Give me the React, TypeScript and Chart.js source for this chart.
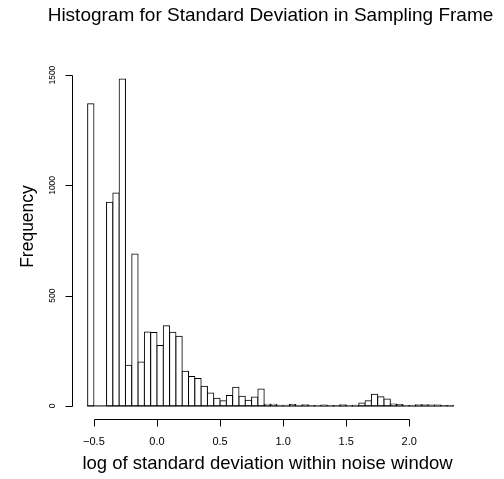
import { useEffect, useRef } from "react";
import { Chart, registerables } from "chart.js";

Chart.register(...registerables);

const TITLE = "Histogram for Standard Deviation in Sampling Frame";
const X_LABEL = "log of standard deviation within noise window";
const Y_LABEL = "Frequency";

// histogram bins: width 0.05, midpoints
const BIN_WIDTH = 0.05;
const binMids = [
  -0.525, -0.475, -0.425, -0.375, -0.325, -0.275, -0.225, -0.175, -0.125, -0.075,
  -0.025, 0.025, 0.075, 0.125, 0.175, 0.225, 0.275, 0.325, 0.375, 0.425,
  0.475, 0.525, 0.575, 0.625, 0.675, 0.725, 0.775, 0.825, 0.875, 0.925,
  0.975, 1.025, 1.075, 1.125, 1.175, 1.225, 1.275, 1.325, 1.375, 1.425,
  1.475, 1.525, 1.575, 1.625, 1.675, 1.725, 1.775, 1.825, 1.875, 1.925,
  1.975, 2.025, 2.075, 2.125, 2.175, 2.225, 2.275, 2.325,
];
const counts = [
  1370, 0, 0, 924, 965, 1482, 184, 689, 199, 335,
  333, 274, 364, 334, 316, 157, 133, 124, 89, 59,
  35, 23, 47, 85, 44, 26, 41, 77, 8, 8,
  3, 3, 7, 3, 5, 2, 1, 4, 1, 2,
  5, 1, 3, 13, 24, 53, 42, 31, 9, 7,
  2, 3, 5, 5, 4, 4, 2, 2,
];

const xTicks = [-0.5, 0, 0.5, 1, 1.5, 2];
const xTickLabels = ["\u22120.5", "0.0", "0.5", "1.0", "1.5", "2.0"];
const yTicks = [0, 500, 1000, 1500];
const yTickLabels = ["0", "500", "1000", "1500"];

const FONT = '"Liberation Sans", Arial, Helvetica, sans-serif';

const rAxesPlugin = {
  id: "rAxes",
  afterDatasetsDraw(chart: any) {
    // bottom edges of all histogram cells (also the empty ones), as R draws them
    const ctx: CanvasRenderingContext2D = chart.ctx;
    const xs = chart.scales.x;
    const ys = chart.scales.y;
    const lo = binMids[0] - BIN_WIDTH / 2;
    const hi = binMids[binMids.length - 1] + BIN_WIDTH / 2;
    const y0 = ys.getPixelForValue(0);
    ctx.save();
    ctx.strokeStyle = "#000";
    ctx.lineWidth = 1;
    ctx.beginPath();
    ctx.moveTo(xs.getPixelForValue(lo) - 0.5, y0);
    ctx.lineTo(xs.getPixelForValue(hi) + 0.5, y0);
    ctx.stroke();
    ctx.restore();
  },
  afterDraw(chart: any) {
    const ctx: CanvasRenderingContext2D = chart.ctx;
    const { left, right, top, bottom } = chart.chartArea;
    const xs = chart.scales.x;
    const ys = chart.scales.y;
    ctx.save();
    ctx.strokeStyle = "#000";
    ctx.fillStyle = "#000";
    ctx.lineWidth = 1;

    // x axis
    const axY = Math.round(bottom) + 0.5;
    const xa = Math.round(xs.getPixelForValue(xTicks[0])) + 0.5;
    const xb = Math.round(xs.getPixelForValue(xTicks[xTicks.length - 1])) + 0.5;
    ctx.beginPath();
    ctx.moveTo(xa, axY);
    ctx.lineTo(xb, axY);
    xTicks.forEach((v) => {
      const px = Math.round(xs.getPixelForValue(v)) + 0.5;
      ctx.moveTo(px, axY);
      ctx.lineTo(px, axY + 7);
    });
    ctx.stroke();
    ctx.font = `11px ${FONT}`;
    ctx.textAlign = "center";
    ctx.textBaseline = "alphabetic";
    xTicks.forEach((v, i) => {
      ctx.fillText(xTickLabels[i], xs.getPixelForValue(v), axY + 25.5);
    });

    // y axis
    const axX = Math.round(left) - 0.5;
    const ya = Math.round(ys.getPixelForValue(yTicks[0])) + 0.5;
    const yb = Math.round(ys.getPixelForValue(yTicks[yTicks.length - 1])) + 0.5;
    ctx.beginPath();
    ctx.moveTo(axX, ya);
    ctx.lineTo(axX, yb);
    yTicks.forEach((v) => {
      const py = Math.round(ys.getPixelForValue(v)) + 0.5;
      ctx.moveTo(axX, py);
      ctx.lineTo(axX - 7, py);
    });
    ctx.stroke();
    ctx.font = `8.5px ${FONT}`;
    yTicks.forEach((v, i) => {
      ctx.save();
      ctx.translate(axX - 17.5, ys.getPixelForValue(v));
      ctx.rotate(-Math.PI / 2);
      ctx.fillText(yTickLabels[i], 0, 0);
      ctx.restore();
    });

    // titles
    const cx = (left + right) / 2;
    ctx.font = `19px ${FONT}`;
    ctx.fillText(TITLE, cx, 20.5);
    ctx.font = `18.5px ${FONT}`;
    ctx.fillText(X_LABEL, cx - 3, 469);
    ctx.font = `17.5px ${FONT}`;
    ctx.save();
    ctx.translate(33, (top + bottom) / 2 - 16);
    ctx.rotate(-Math.PI / 2);
    ctx.fillText(Y_LABEL, 0, 0);
    ctx.restore();
    ctx.restore();
  },
};

export default function App() {
  const ref = useRef<HTMLCanvasElement | null>(null);

  useEffect(() => {
    document.body.style.margin = "0";
    const canvas = ref.current;
    if (!canvas) return;
    const lo = binMids[0] - BIN_WIDTH / 2;
    const hi = binMids[binMids.length - 1] + BIN_WIDTH / 2;
    const xPad = 0.04 * (hi - lo);
    const yMax = Math.max(...counts);
    const yPad = 0.04 * yMax;

    const chart = new Chart(canvas, {
      type: "bar",
      data: {
        datasets: [
          {
            data: binMids.map((m, i) => ({ x: m, y: counts[i] })),
            backgroundColor: "#ffffff",
            borderColor: "#000000",
            borderWidth: 1,
            borderSkipped: false,
            barPercentage: 1,
            categoryPercentage: 1,
            inflateAmount: 0.5,
          } as any,
        ],
      },
      options: {
        responsive: false,
        animation: false,
        devicePixelRatio: 1,
        layout: { padding: { left: 73, right: 36, top: 66, bottom: 60 } },
        plugins: {
          legend: { display: false },
          tooltip: { enabled: false },
          title: { display: false },
        },
        scales: {
          x: {
            type: "linear",
            offset: false,
            min: lo - xPad,
            max: hi + xPad,
            display: false,
            grid: { offset: false },
          },
          y: { type: "linear", min: -yPad, max: yMax + yPad, display: false },
        },
      },
      plugins: [rAxesPlugin],
    });
    return () => chart.destroy();
  }, []);

  return (
    <div style={{ width: 504, height: 479, background: "#fff" }}>
      <canvas ref={ref} width={504} height={479} />
    </div>
  );
}
